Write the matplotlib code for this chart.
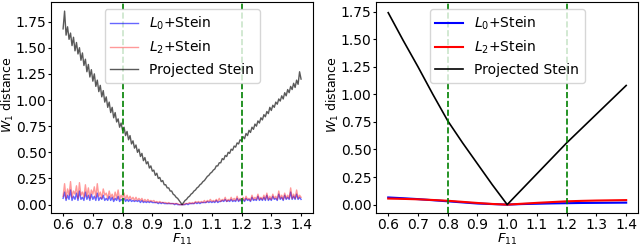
import numpy as np
import matplotlib
matplotlib.use("Agg")
import matplotlib.pyplot as plt
from matplotlib.ticker import FormatStrFormatter

# left panel: noisy runs, F11 from 0.6 to 1.4 in steps of 0.005
f11_dense = np.linspace(0.6, 1.4, 161)

proj_dense = [
    1.68, 1.85, 1.62, 1.70, 1.58, 1.64, 1.52, 1.60, 1.47, 1.55,
    1.44, 1.50, 1.38, 1.45, 1.33, 1.39, 1.27, 1.34, 1.22, 1.29,
    1.18, 1.25, 1.13, 1.19, 1.08, 1.14, 1.03, 1.09, 0.98, 1.03,
    0.93, 0.98, 0.88, 0.93, 0.83, 0.88, 0.79, 0.82, 0.74, 0.78,
    0.71, 0.74, 0.66, 0.70, 0.62, 0.66, 0.58, 0.61, 0.54, 0.57,
    0.50, 0.53, 0.46, 0.49, 0.42, 0.45, 0.39, 0.41, 0.35, 0.37,
    0.32, 0.33, 0.28, 0.30, 0.25, 0.26, 0.22, 0.23, 0.19, 0.19,
    0.16, 0.16, 0.13, 0.13, 0.10, 0.09, 0.07, 0.06, 0.04, 0.02,
    0.00,
    0.02, 0.04, 0.05, 0.07, 0.08, 0.10, 0.11, 0.13, 0.14, 0.16,
    0.17, 0.19, 0.20, 0.22, 0.23, 0.25, 0.27, 0.28, 0.30, 0.31,
    0.33, 0.34, 0.37, 0.37, 0.40, 0.40, 0.44, 0.43, 0.47, 0.46,
    0.50, 0.49, 0.53, 0.52, 0.56, 0.55, 0.59, 0.58, 0.62, 0.61,
    0.65, 0.63, 0.68, 0.66, 0.71, 0.69, 0.74, 0.72, 0.77, 0.75,
    0.80, 0.78, 0.83, 0.81, 0.86, 0.84, 0.89, 0.87, 0.93, 0.90,
    0.95, 0.93, 0.98, 0.96, 1.01, 0.99, 1.04, 1.01, 1.07, 1.04,
    1.10, 1.07, 1.13, 1.10, 1.16, 1.12, 1.19, 1.15, 1.27, 1.20,
]

l0_dense = [
    0.06, 0.12, 0.04, 0.09, 0.05, 0.14, 0.04, 0.08, 0.05, 0.11,
    0.04, 0.13, 0.05, 0.07, 0.04, 0.12, 0.05, 0.09, 0.04, 0.10,
    0.05, 0.08, 0.04, 0.11, 0.04, 0.07, 0.05, 0.09, 0.04, 0.06,
    0.04, 0.08, 0.04, 0.07, 0.03, 0.06, 0.04, 0.08, 0.03, 0.05,
    0.04,
    0.06, 0.03, 0.05, 0.03, 0.05, 0.03, 0.04, 0.03, 0.04, 0.03,
    0.04, 0.02, 0.04, 0.02, 0.03, 0.02, 0.03, 0.02, 0.03, 0.02,
    0.02, 0.02, 0.02, 0.01, 0.02, 0.01, 0.02, 0.01, 0.01, 0.01,
    0.01, 0.01, 0.01, 0.01, 0.00, 0.01, 0.00, 0.00, 0.00,
    0.00,
    0.00, 0.00, 0.01, 0.00, 0.01, 0.01, 0.01, 0.01, 0.02, 0.01,
    0.02, 0.01, 0.02, 0.02, 0.02, 0.02, 0.03, 0.02, 0.03, 0.02,
    0.03, 0.02, 0.04, 0.02, 0.03, 0.03, 0.04, 0.03, 0.05, 0.03,
    0.04, 0.03, 0.05, 0.03, 0.04, 0.03, 0.06, 0.03, 0.05, 0.03,
    0.05, 0.03, 0.06, 0.04, 0.05, 0.03, 0.07, 0.04, 0.05, 0.04,
    0.08, 0.04, 0.06, 0.04, 0.07, 0.04, 0.09, 0.04, 0.06, 0.04,
    0.08, 0.05, 0.06, 0.04, 0.10, 0.05, 0.07, 0.04, 0.09, 0.05,
    0.07, 0.05, 0.12, 0.05, 0.08, 0.05, 0.10, 0.05, 0.07, 0.05,
]

l2_dense = [
    0.08, 0.20, 0.06, 0.15, 0.09, 0.22, 0.07, 0.13, 0.10, 0.18,
    0.06, 0.21, 0.09, 0.12, 0.07, 0.19, 0.08, 0.16, 0.06, 0.14,
    0.10, 0.17, 0.07, 0.20, 0.08, 0.12, 0.06, 0.15, 0.09, 0.11,
    0.06, 0.13, 0.07, 0.10, 0.05, 0.12, 0.06, 0.14, 0.05, 0.09,
    0.06,
    0.11, 0.05, 0.09, 0.05, 0.08, 0.05, 0.07, 0.04, 0.07, 0.04,
    0.06, 0.04, 0.06, 0.03, 0.05, 0.03, 0.05, 0.03, 0.04, 0.03,
    0.04, 0.02, 0.03, 0.02, 0.03, 0.02, 0.02, 0.02, 0.02, 0.01,
    0.02, 0.01, 0.01, 0.01, 0.01, 0.01, 0.01, 0.00, 0.00,
    0.00,
    0.00, 0.01, 0.01, 0.01, 0.02, 0.01, 0.02, 0.01, 0.03, 0.02,
    0.03, 0.02, 0.03, 0.02, 0.04, 0.02, 0.04, 0.03, 0.05, 0.03,
    0.04, 0.03, 0.05, 0.03, 0.06, 0.03, 0.05, 0.04, 0.07, 0.03,
    0.05, 0.04, 0.07, 0.04, 0.06, 0.04, 0.08, 0.04, 0.06, 0.04,
    0.07, 0.04, 0.08, 0.05, 0.06, 0.04, 0.09, 0.05, 0.07, 0.05,
    0.10, 0.05, 0.07, 0.05, 0.09, 0.05, 0.11, 0.05, 0.08, 0.05,
    0.10, 0.06, 0.08, 0.05, 0.13, 0.06, 0.09, 0.05, 0.11, 0.06,
    0.09, 0.06, 0.16, 0.06, 0.10, 0.06, 0.14, 0.06, 0.09, 0.07,
]

# right panel: smooth curves, steps of 0.05
f11 = [0.60, 0.65, 0.70, 0.75, 0.80, 0.85, 0.90, 0.95, 1.00,
       1.05, 1.10, 1.15, 1.20, 1.25, 1.30, 1.35, 1.40]
proj = [1.74, 1.49, 1.25, 1.00, 0.76, 0.56, 0.37, 0.18, 0.00,
        0.14, 0.28, 0.42, 0.56, 0.69, 0.82, 0.95, 1.08]
l0 = [0.065, 0.058, 0.050, 0.040, 0.030, 0.020, 0.010, 0.005, 0.000,
      0.005, 0.008, 0.011, 0.013, 0.015, 0.016, 0.017, 0.018]
l2 = [0.055, 0.052, 0.048, 0.042, 0.035, 0.025, 0.015, 0.006, 0.000,
      0.008, 0.016, 0.023, 0.030, 0.034, 0.037, 0.039, 0.041]

bounds = [0.8, 1.2]

assert len(proj_dense) == len(l0_dense) == len(l2_dense) == len(f11_dense)

plt.rcParams['font.size'] = 10

fig = plt.figure(figsize=(6.4, 2.49), dpi=100)
ax1 = fig.add_axes([0.080, 0.145, 0.409, 0.847])
ax2 = fig.add_axes([0.588, 0.145, 0.409, 0.847])

ax1.plot(f11_dense, l0_dense, color='blue', alpha=0.6, lw=1, label='$L_0$+Stein')
ax1.plot(f11_dense, l2_dense, color='red', alpha=0.4, lw=1, label='$L_2$+Stein')
ax1.plot(f11_dense, proj_dense, color='black', alpha=0.65, lw=1, label='Projected Stein')
ax1.set_ylim(-0.079, 1.937)

ax2.plot(f11, l0, color='blue', lw=1.5, label='$L_0$+Stein')
ax2.plot(f11, l2, color='red', lw=1.5, label='$L_2$+Stein')
ax2.plot(f11, proj, color='black', lw=1.2, label='Projected Stein')
ax2.set_ylim(-0.075, 1.837)

for ax in (ax1, ax2):
    for b in bounds:
        ax.axvline(b, color='green', ls='--', lw=1.2)
    ax.set_xlim(0.56, 1.44)
    ax.set_xticks(np.round(np.arange(0.6, 1.41, 0.1), 1))
    ax.set_yticks(np.arange(0, 1.76, 0.25))
    ax.yaxis.set_major_formatter(FormatStrFormatter('%.2f'))
    ax.tick_params(length=2, pad=1.5, labelsize=10)
    ax.set_xlabel('$F_{11}$', fontsize=9.5)
    ax.xaxis.set_label_coords(0.5, -0.092)
    ax.xaxis.label.set_va('top')
    ax.set_ylabel('$W_1$ distance', fontsize=9)
    ax.yaxis.set_label_coords(-0.135, 0.56)
    ax.legend(loc='upper center', fontsize=10)

fig.savefig('out.png', dpi=100)
